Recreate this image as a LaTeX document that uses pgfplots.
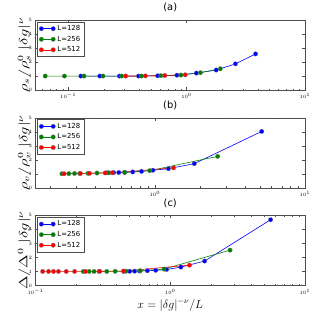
\documentclass[border=0pt]{standalone}
\usepackage{pgfplots}
\pgfplotsset{compat=1.18}
\usepackage{fontspec}
\setmainfont{DejaVu Sans}
\definecolor{mblue}{rgb}{0,0,1}
\definecolor{mgreen}{rgb}{0,0.5,0}
\definecolor{mred}{rgb}{1,0,0}
\pgfplotsset{
 panel/.style={
  at={(36pt,#1pt)}, anchor=south west, width=273pt, height=71pt, scale only axis,
  xmax=10, ymin=0, ymax=5, ytick={0,...,5},
  tick label style={font=\fontsize{5}{6}\selectfont},
  major tick length=3pt, minor tick length=1.5pt,
  axis line style={black!70},
  every tick/.style={black!70},
  ylabel style={at={(axis description cs:-0.042,0.5)}, anchor=center, font=\fontsize{12}{14}\selectfont},
  title style={at={(0.5,1)}, anchor=south, yshift=-1.5pt, font=\fontsize{10}{12}\selectfont},
  legend style={at={(0.007,0.975)}, anchor=north west, font=\fontsize{7}{8}\selectfont, draw=black!70, inner sep=1.5pt, row sep=0pt, cells={anchor=west}},
  legend image code/.code={\draw[mark repeat=2,mark phase=1,##1] plot coordinates {(0pt,0pt) (6pt,0pt) (12pt,0pt)};},
  every axis plot/.append style={line width=0.6pt, mark=*, mark size=2.3pt, mark options={draw=black!50, line width=0.2pt}},
 }
}
\begin{document}
\begin{tikzpicture}
\path (0pt,0pt) rectangle (320pt,320pt);
% (a)
\begin{semilogxaxis}[panel=233, xmin=0.053, title={(a)}, ylabel={\scalebox{1.4}[1.0]{$\rho_s/\rho_s^0\;|\delta g|^\nu$}}]
\addplot[mblue] coordinates {(0.128,1.0)(0.185,1.0)(0.271,1.0)(0.393,1.0)(0.570,1.02)(0.83,1.06)(1.21,1.21)(1.78,1.43)(2.59,1.87)(3.83,2.58)};
\addplot[mgreen] coordinates {(0.064,1.0)(0.093,1.0)(0.136,1.0)(0.197,1.0)(0.283,1.0)(0.416,1.0)(0.607,1.03)(0.897,1.07)(1.31,1.24)(1.93,1.52)};
\addplot[mred] coordinates {(0.306,1.0)(0.449,1.01)(0.656,1.04)(0.975,1.09)};
\legend{L=128,L=256,L=512}
\end{semilogxaxis}
% (b)
\begin{semilogxaxis}[panel=134, xmin=0.16, title={(b)}, ylabel={\scalebox{1.4}[1.0]{$\rho_v/\rho_v^0\;|\delta g|^\nu$}}]
\addplot[mblue] coordinates {(0.48,1.07)(0.531,1.08)(0.575,1.09)(0.63,1.1)(0.711,1.13)(0.814,1.17)(0.97,1.25)(1.23,1.36)(1.83,1.72)(5.15,4.02)};
\addplot[mgreen] coordinates {(0.24,1.0)(0.267,1.01)(0.291,1.02)(0.315,1.02)(0.358,1.03)(0.411,1.05)(0.493,1.07)(0.627,1.1)(0.923,1.22)(2.62,2.24)};
\addplot[mred] coordinates {(0.248,1.0)(0.319,1.02)(0.366,1.03)(0.466,1.06)(0.52,1.07)(1.33,1.42)};
\legend{L=128,L=256,L=512}
\end{semilogxaxis}
% (c)
\begin{semilogxaxis}[panel=35, xmin=0.1, title={(c)}, ylabel={\scalebox{1.4}[1.0]{$\Delta/\Delta^0\;|\delta g|^\nu$}},
  xlabel={$x=|\delta g|^{-\nu}/L$}, xlabel style={font=\fontsize{12}{14}\selectfont, yshift=2pt}]
\addplot[mblue] coordinates {(0.452,1.0)(0.5,1.01)(0.544,1.02)(0.592,1.03)(0.677,1.05)(0.78,1.08)(0.94,1.14)(1.2,1.31)(1.8,1.74)(5.56,4.69)};
\addplot[mgreen] coordinates {(0.226,1.0)(0.25,1.0)(0.272,1.0)(0.296,1.0)(0.338,1.0)(0.39,1.01)(0.47,1.02)(0.6,1.05)(0.9,1.17)(2.78,2.52)};
\addplot[mred] coordinates {(0.113,1.0)(0.125,1.0)(0.136,1.0)(0.148,1.0)(0.169,1.0)(0.195,1.0)(0.235,1.0)(0.3,1.01)(0.45,1.03)(1.39,1.45)};
\legend{L=128,L=256,L=512}
\end{semilogxaxis}
\end{tikzpicture}
\end{document}
